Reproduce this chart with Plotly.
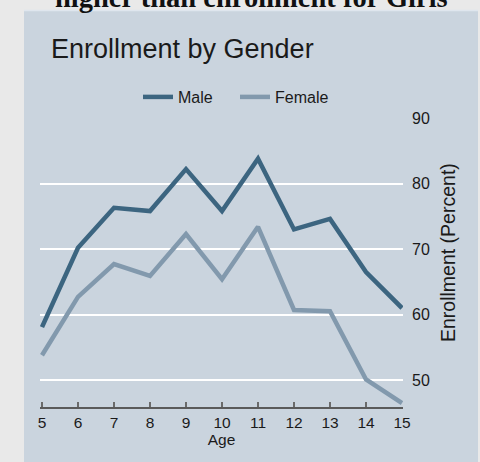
import plotly.graph_objects as go

ages = [5, 6, 7, 8, 9, 10, 11, 12, 13, 14, 15]
male = [58.1, 70.2, 76.3, 75.8, 82.2, 75.8, 83.8, 73.0, 74.6, 66.5, 61.0]
female = [53.8, 62.7, 67.7, 65.9, 72.3, 65.4, 73.4, 60.7, 60.5, 50.1, 46.5]
y_ticks = [50, 60, 70, 80, 90]
grid_vals = [50, 60, 70, 80]

W, H = 480, 462
ml, mr, mt, mb = 40, 77, 118, 55
pw, ph = W - ml - mr, H - mt - mb

panel = "#cad4de"
outer = "#e9e9e9"
male_c = "#3c6580"
female_c = "#8299ad"
font = "Liberation Sans, Arial, sans-serif"

fig = go.Figure()
fig.add_trace(go.Scatter(x=ages, y=male, mode="lines", name="Male",
                         line=dict(color=male_c, width=4.5), yaxis="y"))
fig.add_trace(go.Scatter(x=ages, y=female, mode="lines", name="Female",
                         line=dict(color=female_c, width=4.5), yaxis="y"))

yr = [45.9, 90.0]

def px_x(p):
    return (p - ml) / pw

def px_y(p):
    return (H - mb - p) / ph

fig.update_layout(
    width=W, height=H,
    margin=dict(l=ml, r=mr, t=mt, b=mb, pad=0, autoexpand=False),
    paper_bgcolor=outer,
    plot_bgcolor="rgba(0,0,0,0)",
    font=dict(family=font, color="#1a1a1a", size=15),
    showlegend=True,
    legend=dict(orientation="h", x=px_x(235), xanchor="center",
                y=px_y(97), yanchor="middle", bgcolor="rgba(0,0,0,0)",
                font=dict(size=16, family=font), itemwidth=30,
                entrywidth=52, traceorder="normal"),
    xaxis=dict(range=[5 - 2 / 36, 15 + 1 / 36], tickvals=ages,
               showgrid=False, zeroline=False, showline=True,
               linecolor="#5a5a5a", linewidth=2, automargin=False,
               ticks="inside", ticklen=5, tickcolor="#6a6a6a", tickwidth=1.5,
               tickfont=dict(size=15.5, family=font, color="#1a1a1a"),
               title=dict(text="Age", font=dict(size=15.5, family=font),
                          standoff=4)),
    yaxis=dict(range=yr, side="right", tickvals=y_ticks, showgrid=False,
               zeroline=False, showline=False, ticks="", automargin=False,
               ticklabelstandoff=8,
               tickfont=dict(size=16, family=font, color="#1a1a1a")),
    yaxis2=dict(range=yr, overlaying="y", side="right", tickvals=grid_vals,
                showgrid=True, gridcolor="#ffffff", gridwidth=1.5,
                showticklabels=False, zeroline=False, showline=False,
                ticks="", automargin=False),
    shapes=[dict(type="rect", xref="paper", yref="paper",
                 x0=px_x(24), x1=px_x(478), y0=px_y(470), y1=px_y(10),
                 fillcolor=panel, line=dict(width=0), layer="below"),
            dict(type="line", xref="paper", yref="paper",
                 x0=px_x(24), x1=px_x(478), y0=px_y(10.5), y1=px_y(10.5),
                 line=dict(color="#dfe6ee", width=1.5), layer="below")],
    annotations=[
        dict(text="Enrollment by Gender", xref="paper", yref="paper",
             x=px_x(49), y=px_y(49), xanchor="left", yanchor="middle",
             showarrow=False, font=dict(size=27, family=font, color="#1a1a1a")),
        dict(text="Enrollment (Percent)", xref="paper", yref="paper",
             x=px_x(448), y=px_y(253), xanchor="center", yanchor="middle",
             textangle=-90, showarrow=False,
             font=dict(size=19.5, family=font, color="#1a1a1a")),
        dict(text="<b>higher than enrollment for Girls</b>", xref="paper",
             yref="paper", x=px_x(251), y=px_y(8), xanchor="center",
             yanchor="bottom", yshift=-7, showarrow=False,
             font=dict(size=28.5, family="Liberation Serif, Times New Roman, serif",
                       color="#111111")),
    ],
)
# invisible helper trace so that yaxis2 (the gridline axis) is drawn
fig.add_trace(go.Scatter(x=[ages[0]], y=[grid_vals[0]], yaxis="y2",
                         mode="markers", marker=dict(opacity=0),
                         showlegend=False, hoverinfo="skip"))

fig.write_html("out.html",
               config={"displayModeBar": False},
               post_script="document.body.style.margin='0';"
                           "document.body.style.overflow='hidden';")
